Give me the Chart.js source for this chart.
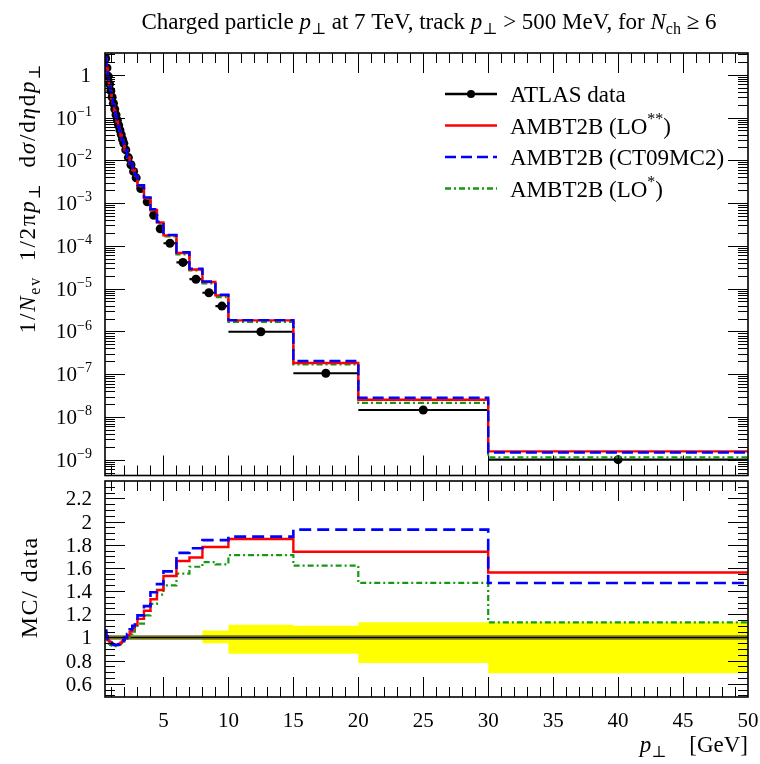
<!DOCTYPE html>
<html>
<head>
<meta charset="utf-8">
<script src="https://cdn.jsdelivr.net/npm/chart.js@4.4.1/dist/chart.umd.min.js"></script>
<style>
  body { margin: 0; background: #fff; width: 760px; height: 764px; position: relative; overflow: hidden; }
  #main { position: absolute; left: 0; top: 0; }
  #ratio { position: absolute; left: 0; top: 480px; }
</style>
</head>
<body>
<canvas id="main" width="760" height="480"></canvas>
<canvas id="ratio" width="760" height="284"></canvas>
<script>
// bin edges in pT [GeV]
const binEdges = [0.5, 0.6, 0.7, 0.8, 0.9, 1.0, 1.1, 1.2, 1.3, 1.4, 1.5, 1.6, 1.7, 1.8, 1.9, 2.0,
    2.2, 2.4, 2.6, 2.8, 3.0, 3.5, 4.0, 4.5, 5.0, 6.0, 7.0, 8.0, 9.0, 10, 15, 20, 30, 50];

// ATLAS data, 1/Nev 1/2pi pT d2N/deta dpT
const atlasData = [2.4, 1.45, 0.92, 0.61, 0.42, 0.30, 0.215, 0.158, 0.116, 0.087, 0.066, 0.051, 0.040,
    0.031, 0.025, 0.0175, 0.0116, 0.0079, 0.0055, 0.0039, 0.0022, 0.00107, 0.00052, 0.00025, 0.000115,
    0.000041, 0.0000166, 0.0000080, 0.0000039, 9.8e-7, 1.05e-7, 1.45e-8, 1.0e-9];

// MC / data
const ratioLOss = [1.05, 1.01, 0.98, 0.965, 0.955, 0.945, 0.94, 0.935, 0.935, 0.935, 0.94, 0.945, 0.955,
    0.965, 0.975, 0.99, 1.02, 1.05, 1.08, 1.11, 1.16, 1.23, 1.33, 1.41, 1.53, 1.66, 1.69, 1.78, 1.78,
    1.85, 1.74, 1.74, 1.56];
const ratioCT09 = [1.06, 1.01, 0.985, 0.97, 0.955, 0.945, 0.94, 0.935, 0.935, 0.935, 0.94, 0.95, 0.96,
    0.97, 0.98, 1.00, 1.03, 1.07, 1.10, 1.13, 1.19, 1.27, 1.39, 1.46, 1.57, 1.73, 1.77, 1.84, 1.84,
    1.87, 1.93, 1.93, 1.47];
const ratioLOs = [1.04, 0.99, 0.96, 0.945, 0.935, 0.93, 0.925, 0.925, 0.925, 0.93, 0.935, 0.94, 0.95,
    0.955, 0.965, 0.98, 1.00, 1.03, 1.05, 1.08, 1.12, 1.19, 1.29, 1.37, 1.45, 1.55, 1.61, 1.65, 1.63,
    1.71, 1.62, 1.47, 1.13];

// relative data uncertainty (yellow band)
const errUp = [0.015, 0.015, 0.015, 0.015, 0.015, 0.015, 0.015, 0.015, 0.015, 0.015, 0.015, 0.015, 0.015,
    0.015, 0.015, 0.015, 0.015, 0.015, 0.015, 0.015, 0.015, 0.015, 0.015, 0.015, 0.015, 0.015, 0.015,
    0.06, 0.06, 0.11, 0.10, 0.13, 0.13];
const errDown = [0.015, 0.015, 0.015, 0.015, 0.015, 0.015, 0.015, 0.015, 0.015, 0.015, 0.015, 0.015, 0.015,
    0.015, 0.015, 0.015, 0.015, 0.015, 0.015, 0.015, 0.015, 0.015, 0.015, 0.015, 0.015, 0.015, 0.015,
    0.05, 0.05, 0.14, 0.14, 0.22, 0.31];

const xTickLabels = [5, 10, 15, 20, 25, 30, 35, 40, 45, 50];
const mainDecades = [0, -1, -2, -3, -4, -5, -6, -7, -8, -9];
const ratioTickLabels = [0.6, 0.8, 1, 1.2, 1.4, 1.6, 1.8, 2, 2.2];

const FAM = '"Liberation Serif", "DejaVu Serif", serif';
const RED = '#ff0000', BLUE = '#0000ff', GREEN = '#139a13', YELLOW = '#ffff00';

// histogram as stepped line: left edges + closing point
function stepPoints(vals) {
    const pts = vals.map((v, i) => ({ x: binEdges[i], y: v }));
    pts.push({ x: binEdges[vals.length], y: vals[vals.length - 1] });
    return pts;
}
function barPoints(vals) {
    const pts = [];
    vals.forEach((v, i) => {
        pts.push({ x: binEdges[i], y: v }, { x: binEdges[i + 1], y: v }, { x: binEdges[i + 1], y: null });
    });
    return pts;
}

const mcLoss = atlasData.map((v, i) => v * ratioLOss[i]);
const mcCT09 = atlasData.map((v, i) => v * ratioCT09[i]);
const mcLOs = atlasData.map((v, i) => v * ratioLOs[i]);
const centers = atlasData.map((v, i) => ({ x: (binEdges[i] + binEdges[i + 1]) / 2, y: v }));

// text with italic / sub / sup pieces, optional extra spacing per char
function drawRich(ctx, parts, x, y, align, size, sp) {
    sp = sp || 0;
    const fontOf = p => (p[1] === 'i' ? 'italic ' : '') +
        ((p[1] === 'sub' || p[1] === 'sup') ? Math.round(size * 0.68) : size) + 'px ' + FAM;
    let w = 0;
    for (const p of parts) {
        ctx.font = fontOf(p);
        for (const ch of p[0]) w += ctx.measureText(ch).width + sp;
    }
    w -= sp;
    let cx = align === 'center' ? x - w / 2 : align === 'right' ? x - w : x;
    ctx.textAlign = 'left';
    ctx.textBaseline = 'alphabetic';
    for (const p of parts) {
        ctx.font = fontOf(p);
        const dy = p[1] === 'sub' ? size * 0.22 : p[1] === 'sup' ? -size * 0.42 : 0;
        if (!sp) { ctx.fillText(p[0], cx, y + dy); cx += ctx.measureText(p[0]).width; continue; }
        for (const ch of p[0]) {
            ctx.fillText(ch, cx, y + dy);
            cx += ctx.measureText(ch).width + sp;
        }
    }
}

// frame + inward ticks on all sides
function drawFrame(chart, yTicks) {
    const { ctx, chartArea: a, scales: { x, y } } = chart;
    ctx.save();
    ctx.strokeStyle = '#000';
    ctx.lineWidth = 1;
    ctx.beginPath();
    for (let v = 1; v < 50; v++) {
        const px = Math.round(x.getPixelForValue(v)) + 0.5;
        const L = v % 5 === 0 ? 20 : 10;
        ctx.moveTo(px, a.top); ctx.lineTo(px, a.top + L);
        ctx.moveTo(px, a.bottom); ctx.lineTo(px, a.bottom - L);
    }
    for (const t of yTicks) {
        const py = Math.round(y.getPixelForValue(t.v)) + 0.5;
        if (py < a.top + 1 || py > a.bottom - 1) continue;
        const L = t.major ? 20 : 10;
        ctx.moveTo(a.left, py); ctx.lineTo(a.left + L, py);
        ctx.moveTo(a.right, py); ctx.lineTo(a.right - L, py);
    }
    ctx.stroke();
    ctx.lineWidth = 1.6;
    ctx.strokeRect(a.left, a.top, a.right - a.left, a.bottom - a.top);
    ctx.restore();
}

const mainYTicks = [];
for (let k = -10; k <= 0; k++) for (let m = 1; m <= 9; m++) mainYTicks.push({ v: m * Math.pow(10, k), major: m === 1 });
const ratioYTicks = [];
for (let i = 10; i <= 47; i++) ratioYTicks.push({ v: i * 0.05, major: i % 4 === 0 });

const mainPlugin = {
    id: 'mainDecor',
    afterDraw(chart) {
        const { ctx, scales: { y } } = chart;
        drawFrame(chart, mainYTicks);
        ctx.save();
        ctx.fillStyle = '#000';
        // y tick labels
        for (const d of mainDecades) {
            const py = y.getPixelForValue(Math.pow(10, d));
            if (d === 0) drawRich(ctx, [['1', '']], 91, py + 7, 'right', 21);
            else drawRich(ctx, [['10', ''], ['\u2212' + (-d), 'sup']], 92, py + 7, 'right', 21);
        }
        // title
        drawRich(ctx, [['Charged particle ', ''], ['p', 'i'], ['\u22A5', 'sub'], [' at 7 TeV, track ', ''],
            ['p', 'i'], ['\u22A5', 'sub'], [' > 500 MeV, for ', ''], ['N', 'i'], ['ch', 'sub'], [' \u2265 6', '']],
            433, 29, 'center', 23);
        // y title
        ctx.save();
        ctx.translate(35, 199);
        ctx.rotate(-Math.PI / 2);
        drawRich(ctx, [['1/', ''], ['N', 'i'], ['ev', 'sub'], ['  1/2\u03C0', ''], ['p', 'i'], ['\u22A5', 'sub'],
            ['  d', ''], ['\u03C3', 'i'], ['/d', ''], ['\u03B7', 'i'], ['d', ''], ['p', 'i'], ['\u22A5', 'sub']],
            0, 0, 'center', 23, 1.8);
        ctx.restore();
        // legend
        const rows = [
            { t: [['ATLAS data', '']], c: '#000', dash: [], dot: true },
            { t: [['AMBT2B (LO', ''], ['**', 'sup'], [')', '']], c: RED, dash: [] },
            { t: [['AMBT2B (CT09MC2)', '']], c: BLUE, dash: [11, 5] },
            { t: [['AMBT2B (LO', ''], ['*', 'sup'], [')', '']], c: GREEN, dash: [6, 3, 2, 3] }
        ];
        rows.forEach((r, i) => {
            const ly = 94 + i * 31.5;
            ctx.strokeStyle = r.c; ctx.lineWidth = 2.4; ctx.setLineDash(r.dash);
            ctx.beginPath(); ctx.moveTo(445, ly); ctx.lineTo(497, ly); ctx.stroke();
            ctx.setLineDash([]);
            if (r.dot) { ctx.fillStyle = '#000'; ctx.beginPath(); ctx.arc(471, ly, 4, 0, Math.PI * 2); ctx.fill(); }
            ctx.fillStyle = '#000';
            drawRich(ctx, r.t, 510, ly + 8, 'left', 23);
        });
        ctx.restore();
    }
};

const ratioPlugin = {
    id: 'ratioDecor',
    afterDraw(chart) {
        const { ctx, chartArea: a, scales: { x, y } } = chart;
        drawFrame(chart, ratioYTicks);
        ctx.save();
        ctx.fillStyle = '#000';
        for (const v of ratioTickLabels) {
            drawRich(ctx, [[String(v), '']], 92, y.getPixelForValue(v) + 7, 'right', 21);
        }
        for (const v of xTickLabels) {
            drawRich(ctx, [[String(v), '']], x.getPixelForValue(v), a.bottom + 30, 'center', 21);
        }
        drawRich(ctx, [['p', 'i'], ['\u22A5', 'sub'], ['    [GeV]', '']], 748, 272, 'right', 23);
        ctx.translate(37, 108);
        ctx.rotate(-Math.PI / 2);
        drawRich(ctx, [['MC/ data', '']], 0, 0, 'center', 24, 1.5);
        ctx.restore();
    }
};

new Chart(document.getElementById('main'), {
    type: 'line',
    data: {
        datasets: [
            { data: stepPoints(mcCT09), stepped: 'before', borderColor: BLUE, borderWidth: 2.4, borderDash: [11, 5], order: 0 },
            { data: stepPoints(mcLoss), stepped: 'before', borderColor: RED, borderWidth: 2.4, order: 1 },
            { data: stepPoints(mcLOs), stepped: 'before', borderColor: GREEN, borderWidth: 2.2, borderDash: [6, 3, 2, 3], order: 2 },
            { data: barPoints(atlasData), borderColor: '#000', borderWidth: 2.2, spanGaps: false, order: 3 },
            { data: centers, showLine: false, pointRadius: 4.5, pointBackgroundColor: '#000', pointBorderWidth: 0, order: 4 }
        ]
    },
    options: {
        responsive: false,
        animation: false,
        layout: { padding: { left: 105, right: 12, top: 53, bottom: 1 } },
        plugins: { legend: { display: false }, tooltip: { enabled: false } },
        elements: { point: { radius: 0 }, line: { tension: 0 } },
        scales: {
            x: { type: 'linear', min: 0.5, max: 50, display: false },
            y: { type: 'logarithmic', min: Math.pow(10, -9.37), max: Math.pow(10, 0.51), display: false }
        }
    },
    plugins: [mainPlugin]
});

new Chart(document.getElementById('ratio'), {
    type: 'line',
    data: {
        datasets: [
            { data: stepPoints(ratioCT09), stepped: 'before', borderColor: BLUE, borderWidth: 2.6, borderDash: [12, 6], order: 0 },
            { data: stepPoints(ratioLOss), stepped: 'before', borderColor: RED, borderWidth: 2.4, order: 1 },
            { data: stepPoints(ratioLOs), stepped: 'before', borderColor: GREEN, borderWidth: 2.2, borderDash: [6, 3, 2, 3], order: 2 },
            { data: stepPoints(atlasData.map(() => 1)), stepped: 'before', borderColor: '#000', borderWidth: 1.5, order: 3 },
            { data: stepPoints(atlasData.map(() => 1)), stepped: 'before', borderColor: 'rgba(70,70,40,0.55)', borderWidth: 5, order: 4 },
            { data: stepPoints(errUp.map(e => 1 + e)), stepped: 'before', borderWidth: 0, borderColor: YELLOW, backgroundColor: YELLOW, fill: '+1', order: 5 },
            { data: stepPoints(errDown.map(e => 1 - e)), stepped: 'before', borderWidth: 0, borderColor: YELLOW, order: 6 }
        ]
    },
    options: {
        responsive: false,
        animation: false,
        layout: { padding: { left: 105, right: 12, top: 1, bottom: 67 } },
        plugins: { legend: { display: false }, tooltip: { enabled: false } },
        elements: { point: { radius: 0 }, line: { tension: 0 } },
        scales: {
            x: { type: 'linear', min: 0.5, max: 50, display: false },
            y: { type: 'linear', min: 0.486, max: 2.35, display: false }
        }
    },
    plugins: [ratioPlugin]
});
</script>
</body>
</html>
